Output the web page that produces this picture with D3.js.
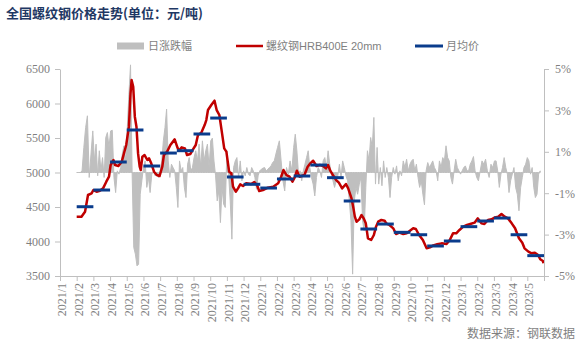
<!DOCTYPE html>
<html>
<head>
<meta charset="utf-8">
<script src="https://cdn.jsdelivr.net/npm/d3@7"></script>
<style>
  body { margin: 0; background: #fff; }
  svg { display: block; }
</style>
</head>
<body>
<div id="chart"></div>
<script>
// 全国螺纹钢价格走势：日价格(红线)、月均价(蓝线)、日涨跌幅(灰色面积，右轴)

// 横轴月份标签
const monthLabels = [
  "2021/1", "2021/2", "2021/3", "2021/4", "2021/5", "2021/6", "2021/7", "2021/8",
  "2021/9", "2021/10", "2021/11", "2021/12", "2022/1", "2022/2", "2022/3", "2022/4",
  "2022/5", "2022/6", "2022/7", "2022/8", "2022/9", "2022/10", "2022/11", "2022/12",
  "2023/1", "2023/2", "2023/3", "2023/4", "2023/5"
];

// 月均价 (2021/2 - 2023/5)
const avgMonths = monthLabels.slice(1);
const avgPrice = [
  4504, 4746, 5152, 5616, 5094, 5282, 5316, 5558, 5789, 4935, 4829,
  4775, 4906, 4949, 5108, 4925, 4587, 4181, 4253, 4133, 4098, 3935, 4007,
  4215, 4297, 4340, 4098, 3795
];

// 螺纹钢HRB400E 20mm 价格 (元/吨)
const priceSeries = [
  ["2021-02-01", 4360], ["2021-02-09", 4360], ["2021-02-15", 4432], ["2021-02-20", 4674],
  ["2021-02-26", 4698], ["2021-03-01", 4746], ["2021-03-07", 4722], ["2021-03-13", 4736],
  ["2021-03-19", 4770], ["2021-03-25", 4867], ["2021-03-30", 4939], ["2021-04-02", 5108],
  ["2021-04-07", 5181], ["2021-04-10", 5108], ["2021-04-16", 5094], ["2021-04-22", 5157],
  ["2021-04-26", 5277], ["2021-04-30", 5398], ["2021-05-05", 5664], ["2021-05-08", 6147],
  ["2021-05-10", 6340], ["2021-05-13", 6243], ["2021-05-16", 5809], ["2021-05-19", 5664],
  ["2021-05-22", 5277], ["2021-05-25", 5084], ["2021-05-27", 5036], ["2021-05-30", 5229],
  ["2021-06-03", 5253], ["2021-06-08", 5181], ["2021-06-11", 5205], ["2021-06-15", 5133],
  ["2021-06-20", 5012], ["2021-06-25", 4963], ["2021-06-30", 4949], ["2021-07-05", 5084],
  ["2021-07-08", 5253], ["2021-07-14", 5302], ["2021-07-20", 5398], ["2021-07-28", 5480],
  ["2021-08-02", 5364], ["2021-08-05", 5316], ["2021-08-10", 5364], ["2021-08-16", 5350],
  ["2021-08-20", 5253], ["2021-08-26", 5268], ["2021-08-31", 5335], ["2021-09-05", 5398],
  ["2021-09-09", 5543], ["2021-09-15", 5577], ["2021-09-21", 5688], ["2021-09-24", 5760],
  ["2021-09-27", 5905], ["2021-10-03", 5978], ["2021-10-09", 6041], ["2021-10-13", 5905],
  ["2021-10-18", 5833], ["2021-10-23", 5567], ["2021-10-27", 5350], ["2021-10-31", 5302],
  ["2021-11-05", 5012], ["2021-11-09", 4988], ["2021-11-12", 4795], ["2021-11-17", 4722],
  ["2021-11-21", 4770], ["2021-11-25", 4828], ["2021-11-30", 4804], ["2021-12-06", 4843],
  ["2021-12-15", 4833], ["2021-12-21", 4862], ["2021-12-26", 4819], ["2021-12-30", 4732],
  ["2022-01-06", 4746], ["2022-01-15", 4780], ["2022-01-25", 4794], ["2022-02-03", 4843],
  ["2022-02-08", 4939], ["2022-02-12", 5036], ["2022-02-17", 4963], ["2022-02-22", 4939],
  ["2022-02-27", 4867], ["2022-03-03", 4930], ["2022-03-07", 5026], ["2022-03-12", 4939],
  ["2022-03-21", 4963], ["2022-03-27", 5084], ["2022-04-01", 5132], ["2022-04-06", 5171],
  ["2022-04-12", 5094], ["2022-04-18", 5108], ["2022-04-24", 5094], ["2022-04-29", 5060],
  ["2022-05-03", 5108], ["2022-05-07", 5026], ["2022-05-12", 4963], ["2022-05-18", 4891],
  ["2022-05-23", 4852], ["2022-05-29", 4770], ["2022-06-05", 4833], ["2022-06-09", 4770],
  ["2022-06-15", 4625], ["2022-06-18", 4505], ["2022-06-21", 4360], ["2022-06-24", 4287],
  ["2022-06-29", 4321], ["2022-07-03", 4384], ["2022-07-07", 4336], ["2022-07-11", 4263],
  ["2022-07-15", 4046], ["2022-07-21", 4022], ["2022-07-26", 4094], ["2022-07-30", 4215],
  ["2022-08-03", 4287], ["2022-08-09", 4312], ["2022-08-15", 4302], ["2022-08-18", 4263],
  ["2022-08-24", 4239], ["2022-08-31", 4191], ["2022-09-05", 4108], ["2022-09-11", 4128],
  ["2022-09-18", 4108], ["2022-09-24", 4118], ["2022-09-30", 4157], ["2022-10-06", 4191],
  ["2022-10-11", 4181], ["2022-10-17", 4094], ["2022-10-24", 4022], ["2022-10-31", 3901],
  ["2022-11-06", 3915], ["2022-11-12", 3944], ["2022-11-19", 3959], ["2022-11-27", 3973],
  ["2022-12-06", 3964], ["2022-12-12", 4022], ["2022-12-18", 4118], ["2022-12-24", 4118],
  ["2022-12-30", 4167], ["2023-01-06", 4215], ["2023-01-13", 4239], ["2023-01-19", 4253],
  ["2023-01-27", 4273], ["2023-02-02", 4335], ["2023-02-08", 4263], ["2023-02-13", 4253],
  ["2023-02-19", 4312], ["2023-02-25", 4321], ["2023-03-03", 4350], ["2023-03-09", 4360],
  ["2023-03-15", 4398], ["2023-03-21", 4360], ["2023-03-27", 4336], ["2023-04-03", 4263],
  ["2023-04-09", 4191], ["2023-04-16", 4046], ["2023-04-22", 3983], ["2023-04-26", 3901],
  ["2023-05-03", 3853], ["2023-05-09", 3829], ["2023-05-15", 3838], ["2023-05-21", 3804],
  ["2023-05-25", 3742], ["2023-05-30", 3717], ["2023-05-31", 3684]
];

// 日涨跌幅 (%)，从 2021-02-01 起每 3 天取一个值
const changeStart = "2021-02-01";
const changeStepDays = 3;
const dailyChange = [
  0, 0, 0, 0.08, 1.21, 2.17, 2.74, -0.24, 0.89, 2.01,
  0.56, 1.37, -0.16, 1.05, 0.08, 0.72, -0.24, 1.69, 1.93, 1.21,
  2.01, 2.04, -0.24, -0.97, 0.08, -0.08, 0.24, 0.89, 1.29, 0.56,
  2.17, 3.78, 5.2, -0.08, -3.62, -3.94, -4.51, -4.43, -1.05, -0.40,
  0.24, 0.56, -0.72, -0.24, -0.97, -0.08, 0.08, -0.16, -0.08, -0.24,
  0.08, 0.56, 1.53, 2.17, 3.06, 0.56, -0.24, 0.40, 0.24, 0.08,
  -0.72, -1.69, 0.56, 0.08, 0.24, -0.72, -1.21, 0.40, 0.72, 0.08,
  0.24, 0.72, 1.05, 0.56, 1.37, 0.24, 1.53, 0.56, 1.05, 1.37,
  0.24, 1.53, 1.66, 0.56, -0.16, -1.37,
  -0.89, -2.42, -0.72, -1.53, -1.69, 1.05, -0.08, -1.37, -3.22, 0.24,
  0.56, 0.72, -0.24, 0.56, -0.40, 0.08, -0.16, 0.24, -0.08, -0.16,
  0.24, 0.08, -0.24, -0.81, -0.16, 0.08, 0.16, 0.21, 0.24, 0.08,
  0.16, 0.24, 0.32, 0.48, 0.56, 0.89, 1.21, 1.53, 0.56, -0.40,
  -0.89, 0.24, -0.08, 0.56, 0.08, 1.21, 1.85, 1.05, -0.08, 0.08,
  -0.40, 0.08, 0.40, 0.72, 1.05, 0.24, -0.24, -0.56, -1.13, -0.24,
  0.24, 0.08, -0.24, 0.56, 0.72, 0.24, 1.05, 0.40, -0.08, -0.40,
  -0.72, -0.40, -0.16, 0.40, -0.24, 0.56, 0.24, -0.16, -0.40, -1.37,
  -2.33, -4.91, -1.37, -0.72, -1.05, -0.56, -0.24, -2.33, -2.82, -0.72,
  1.05, 0.56, 1.69, 1.21, 2.66, -0.56, 1.21, -0.56, 0.24,
  -0.64, 0.56, -0.24, 0.24, -0.24, -1.21, -0.24, 0.24, -0.08, 0.32,
  -0.40, 0.08, -0.16, 0.56, 0.24, 0.64, 0.08, 0.40, 0.56, 0.64,
  0.08, 0.40, -0.24, -0.72, -0.40, -1.05, -1.56, 0.08, 0.48, 0.24,
  0.40, 0.56, 0.24, 0.08, -0.40, 0.56, 0.24, 0.72, 0.56, 1.29,
  0.72, 0.56, -0.24, -0.56, 0.08, 0.64, 0.24, 0.08, -0.08, 0.08,
  0.24, 0.32, 0.08, 0.08, 0.40, 0.56, 0.77, 0.08, -0.24, -0.40,
  0.08, 0.56, 0.40, 0.64, 0.08, -0.24, 0.40, 0.24, 0.56, 0.56,
  0.08, -0.72, -0.08, 0.24, 0.72, 0.24, -0.08, -0.97, -0.40, -0.08,
  0.24, -0.72, -1.05, -1.85, -0.72, -0.24, 0.24, 0.40, 0.72, 0.56,
  -0.08, 0.24, -0.72, -1.21, -1.05, -0.08, 0.08
];

const leftTicks = [3500, 4000, 4500, 5000, 5500, 6000, 6500];
const rightTicks = [-5, -3, -1, 1, 3, 5];

// 颜色
const grayFill = "#bfbfbf";
const redLine = "#c00000";
const blueLine = "#0a3c8c";
const axisColor = "#bfbfbf";
const textColor = "#7f7f7f";

// 尺寸
const width = 586;
const height = 359;
const margin = { top: 69, right: 42, bottom: 83, left: 60 };

// 日期 -> 月份序号 (每月等宽，2021/1 = 0)
const parse = d3.timeParse("%Y-%m-%d");
function monthPos(date) {
  const y = date.getFullYear(), m = date.getMonth();
  const start = new Date(y, m, 1), next = new Date(y, m + 1, 1);
  return (y - 2021) * 12 + m + (date - start) / (next - start);
}

const priceData = priceSeries.map(([d, v]) => ({ m: monthPos(parse(d)), v }));
const t0 = parse(changeStart);
const changeData = dailyChange.map((p, i) => ({
  m: monthPos(d3.timeDay.offset(t0, i * changeStepDays)), p
}));
const avgData = avgMonths.map((label, i) => ({
  m: monthLabels.indexOf(label), v: avgPrice[i]
}));

const svg = d3.select("#chart").append("svg")
  .attr("width", width)
  .attr("height", height);

// 比例尺
const x = d3.scaleLinear()
  .domain([0, monthLabels.length])
  .range([margin.left, width - margin.right]);

const yL = d3.scaleLinear()
  .domain([3500, 6500])
  .range([height - margin.bottom, margin.top]);

const yR = d3.scaleLinear()
  .domain([-5, 5])
  .range([height - margin.bottom, margin.top]);

// 标题
svg.append("text")
  .attr("x", 6)
  .attr("y", 18)
  .attr("fill", "#1f3864")
  .attr("font-family", "'Noto Sans CJK SC', sans-serif")
  .attr("font-weight", "bold")
  .attr("font-size", "13px")
  .text("全国螺纹钢价格走势(单位：元/吨)");

// 图例
const legendFont = "'Liberation Sans', 'Noto Sans CJK SC', sans-serif";
const legend = svg.append("g").attr("font-family", legendFont)
  .attr("font-size", "11px").attr("fill", textColor);

legend.append("rect")
  .attr("x", 117).attr("y", 42.5).attr("width", 27).attr("height", 7)
  .attr("fill", grayFill);
legend.append("text").attr("x", 148).attr("y", 49.5).text("日涨跌幅");

legend.append("line")
  .attr("x1", 236).attr("x2", 263).attr("y1", 46).attr("y2", 46)
  .attr("stroke", redLine).attr("stroke-width", 2.5);
legend.append("text").attr("x", 266).attr("y", 49.5).text("螺纹钢HRB400E 20mm");

legend.append("line")
  .attr("x1", 415).attr("x2", 443).attr("y1", 46).attr("y2", 46)
  .attr("stroke", blueLine).attr("stroke-width", 3);
legend.append("text").attr("x", 446).attr("y", 49.5).text("月均价");

// 日涨跌幅 面积
const area = d3.area()
  .x(d => x(d.m))
  .y0(yR(0))
  .y1(d => yR(d.p));

svg.append("path")
  .datum(changeData)
  .attr("fill", grayFill)
  .attr("stroke", grayFill)
  .attr("stroke-width", 1)
  .attr("stroke-linejoin", "round")
  .attr("d", area);

// 价格线
const line = d3.line()
  .x(d => x(d.m))
  .y(d => yL(d.v));

svg.append("path")
  .datum(priceData)
  .attr("fill", "none")
  .attr("stroke", redLine)
  .attr("stroke-width", 2.5)
  .attr("stroke-linejoin", "round")
  .attr("d", line);

// 月均价
svg.append("g")
  .selectAll("line")
  .data(avgData)
  .join("line")
  .attr("x1", d => x(d.m))
  .attr("x2", d => x(d.m + 1))
  .attr("y1", d => yL(d.v))
  .attr("y2", d => yL(d.v))
  .attr("stroke", blueLine)
  .attr("stroke-width", 3);

// 坐标轴
function styleAxis(g) {
  g.select(".domain").attr("stroke", axisColor);
  g.selectAll(".tick line").attr("stroke", axisColor);
  g.selectAll(".tick text")
    .attr("fill", textColor)
    .attr("font-family", "'Liberation Serif', serif")
    .attr("font-size", "12px");
}

svg.append("g")
  .attr("transform", `translate(${margin.left},0)`)
  .call(d3.axisLeft(yL).tickValues(leftTicks).tickFormat(d3.format("d"))
    .tickSize(5).tickSizeOuter(0).tickPadding(5))
  .call(styleAxis);

svg.append("g")
  .attr("transform", `translate(${width - margin.right},0)`)
  .call(d3.axisRight(yR).tickValues(rightTicks).tickFormat(d => d + "%")
    .tickSize(5).tickSizeOuter(0).tickPadding(6))
  .call(styleAxis);

svg.append("g")
  .attr("transform", `translate(0,${height - margin.bottom})`)
  .call(d3.axisBottom(x).tickValues(d3.range(0, monthLabels.length + 1))
    .tickFormat(i => monthLabels[i] || "").tickSize(5).tickSizeOuter(0))
  .call(styleAxis)
  .call(g => g.selectAll(".tick text")
    .attr("transform", "rotate(-90)")
    .attr("text-anchor", "end")
    .attr("x", -7)
    .attr("y", 0)
    .attr("dy", "0.45em"));

// 数据来源
svg.append("text")
  .attr("x", 575)
  .attr("y", 338)
  .attr("text-anchor", "end")
  .attr("fill", textColor)
  .attr("font-family", "'Noto Sans CJK SC', sans-serif")
  .attr("font-size", "12px")
  .text("数据来源：钢联数据");
</script>
</body>
</html>
